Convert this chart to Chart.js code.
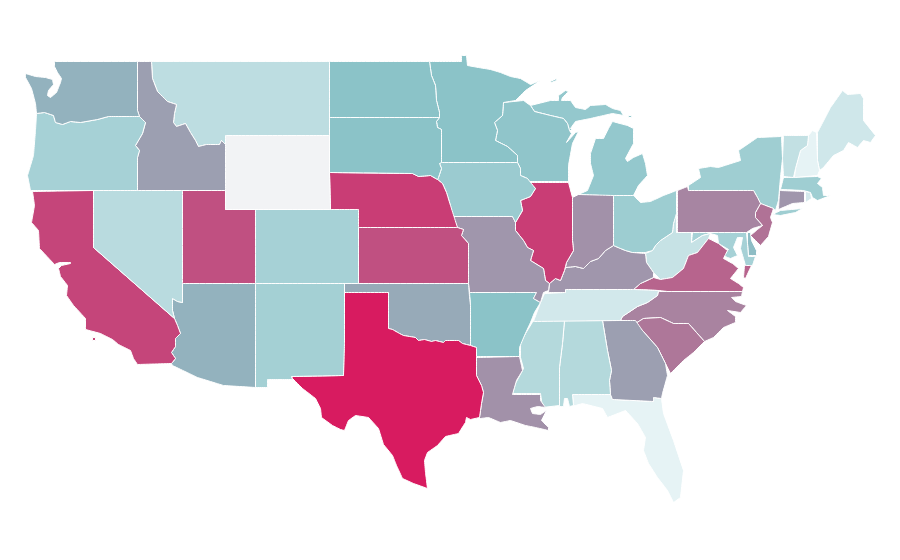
<!DOCTYPE html>
<html><head><meta charset="utf-8">
<style>html,body{margin:0;padding:0;background:#fff}canvas{display:block}</style>
<script src="https://cdn.jsdelivr.net/npm/chart.js@4"></script>
</head><body><canvas id="c" width="900" height="560"></canvas>
<script>
// Choropleth index per state; null = no data
const stateNames = ["WA","OR","ID","MT","WY","ND","SD","NE","CO","UT","NV","CA","AZ","NM","TX","OK","KS","MN","IA","MO","AR","LA","WI","IL","MI","IN","OH","KY","TN","MS","AL","GA","FL","SC","NC","VA","WV","PA","NJ","NY","VT","NH","ME","MA","CT","RI","MD","DE"];
const stateValues = [46,28,53,18,null,40,40,88,28,81,20,85,46,29,100,49,81,40,33,56,40,58,38,88,36,58,32,56,9,22,22,53,0,67,63,74,14,62,69,31,16,0,10,31,56,8,28,42];

// State outlines in map units
const WA = [[54,61],[137,61],[137,110],[139,116],[108,116],[97,119],[80,122],[70,121],[62,124],[55,122],[53,115],[44,112],[36,113],[35,103],[31,88],[25,77],[25,73],[35,76],[45,77],[52,79],[53,84],[48,90],[47,95],[50,97],[56,92],[60,82],[61,78],[57,72],[54,66]];
const OR = [[36,113],[44,112],[53,115],[55,122],[62,124],[70,121],[80,122],[97,119],[108,116],[139,116],[145,122],[142,133],[135,145],[139,150],[137,157],[137,190],[30,190],[27,175],[33,155],[35,130]];
const ID = [[137,61],[151,61],[152,78],[157,91],[167,101],[176,104],[174,113],[173,122],[176,126],[185,123],[190,132],[195,140],[198,146],[206,144],[219,144],[221,140],[225,144],[225,190],[137,190],[137,157],[139,150],[135,145],[142,133],[145,122],[139,116],[137,110]];
const MT = [[151,61],[329,61],[329,135],[225,135],[225,144],[221,140],[219,144],[206,144],[198,146],[195,140],[190,132],[185,123],[176,126],[173,122],[174,113],[176,104],[167,101],[157,91],[152,78]];
const WY = [[225,135],[329,135],[329,172],[330,209],[225,209]];
const ND = [[329,61],[429,61],[431,75],[435,85],[436,100],[439,112],[439,117],[329,117]];
const SD = [[329,117],[439,117],[436,121],[437,127],[441,129],[441,162],[439,163],[441,168],[438,177],[437,179],[430,175],[418,176],[412,173],[329,172]];
const NE = [[329,172],[412,173],[418,176],[430,175],[437,179],[442,183],[446,192],[450,205],[457,227],[358,227],[358,209],[330,209]];
const CO = [[255,209],[358,209],[358,283],[255,283]];
const UT = [[182,190],[225,190],[225,209],[255,209],[255,283],[182,283]];
const NV = [[93,190],[182,190],[182,302],[177,301],[172,298],[172,310],[174,318],[93,247]];
const CA = [[32,191],[93,190],[93,247],[174,318],[177,325],[180,333],[175,338],[175,346],[171,352],[175,358],[171,363],[137,364],[133,358],[130,350],[118,344],[112,339],[100,333],[85,329],[85,318],[73,305],[66,295],[67,285],[60,276],[58,268],[61,265],[70,263],[70,262],[59,262],[54,264],[39,248],[38,230],[31,222],[34,205]];
const CA_island = [[92,337],[95,337],[95,340],[92,340]];
const AZ = [[182,283],[255,283],[255,387],[223,385],[197,377],[172,365],[171,363],[175,358],[171,352],[175,346],[175,338],[180,333],[177,325],[174,318],[172,310],[172,298],[177,301],[182,302]];
const NM = [[255,283],[344,283],[344,343],[343,375],[291,376],[292,379],[267,379],[267,387],[255,387]];
const TX = [[344,292],[388,292],[388,328],[392,329],[399,333],[403,335],[415,337],[418,340],[424,339],[431,341],[435,340],[443,342],[445,340],[458,340],[462,343],[470,345],[476,347],[476,375],[481,385],[483,392],[481,403],[479,417],[470,419],[466,417],[465,422],[463,425],[458,433],[445,436],[437,445],[427,452],[424,460],[425,472],[427,488],[413,483],[402,478],[396,465],[392,455],[383,444],[378,428],[368,417],[355,415],[348,420],[344,430],[340,429],[332,425],[321,417],[320,408],[315,398],[302,388],[292,378],[291,376],[343,375]];
const OK = [[344,283],[468,283],[469,296],[470,305],[470,345],[462,343],[458,340],[445,340],[443,342],[435,340],[431,341],[424,339],[418,340],[415,337],[403,335],[399,333],[392,329],[388,328],[388,292],[344,292]];
const KS = [[358,227],[457,227],[463,229],[461,235],[468,243],[468,283],[358,283]];
const MN = [[429,61],[461,61],[461,55],[466,55],[467,65],[478,67],[490,69],[500,72],[510,76],[520,78],[530,84],[540,80],[525,90],[515,100],[503,102],[502,115],[494,122],[497,130],[495,140],[507,146],[517,155],[517,162],[441,162],[441,129],[437,127],[436,121],[439,117],[439,112],[436,100],[435,85],[431,75]];
const IA = [[441,162],[517,162],[520,168],[520,175],[527,178],[535,188],[530,196],[520,200],[522,210],[515,222],[512,216],[452,216],[450,205],[446,192],[442,183],[437,179],[438,177],[441,168],[439,163]];
const MO = [[452,216],[512,216],[515,222],[515,230],[523,240],[527,247],[533,250],[530,260],[543,268],[545,280],[549,283],[548,290],[543,292],[540,302],[533,298],[536,292],[469,292],[468,283],[468,243],[461,235],[463,229],[457,227]];
const AR = [[469,292],[536,292],[533,298],[540,302],[534,312],[530,322],[524,335],[519,347],[519,356],[476,356],[476,347],[470,345],[470,305]];
const LA = [[476,357],[519,356],[521,365],[522,370],[516,380],[512,394],[540,394],[540,400],[545,407],[537,406],[530,408],[532,413],[540,414],[546,410],[541,420],[548,427],[548,430],[535,427],[525,425],[510,420],[500,422],[488,417],[480,418],[479,417],[481,403],[483,392],[481,385],[476,375]];
const WI = [[503,102],[523,100],[530,105],[534,111],[550,115],[563,118],[567,123],[569,130],[571,133],[566,142],[575,132],[578,131],[572,143],[568,165],[568,181],[528,181],[527,178],[520,175],[520,168],[517,162],[517,155],[507,146],[495,140],[497,130],[494,122],[502,115]];
const IL = [[528,182],[568,182],[572,197],[572,240],[573,250],[566,262],[564,270],[560,280],[555,278],[549,283],[545,280],[543,268],[530,260],[533,250],[527,247],[523,240],[515,230],[515,222],[522,210],[520,200],[530,196],[535,188]];
const MI_lower = [[578,194],[613,195],[633,195],[638,185],[647,175],[645,163],[642,153],[633,157],[627,161],[625,158],[633,143],[633,128],[627,125],[612,121],[608,128],[603,138],[595,138],[590,153],[590,163],[593,175],[587,190]];
const MI_upper = [[530,105],[550,100],[558,100],[558,95],[565,90],[568,91],[562,97],[561,100],[570,100],[575,107],[585,109],[590,105],[605,104],[612,108],[620,110],[623,115],[612,113],[603,115],[590,118],[575,121],[570,128],[572,130],[569,130],[567,123],[563,118],[550,115],[534,111]];
const MI_isle = [[550,81],[556,78],[556,80],[551,82]];
const MI_small = [[628,115],[631,115],[631,117],[628,117]];
const IN = [[572,197],[578,194],[613,194],[613,245],[605,250],[598,258],[590,261],[583,268],[575,266],[565,267],[566,262],[573,250],[572,240]];
const OH = [[613,195],[633,195],[640,202],[650,201],[663,195],[676,190],[676,213],[673,223],[672,232],[660,240],[655,245],[652,250],[645,252],[632,252],[625,250],[620,248],[613,245]];
const KY = [[549,283],[555,278],[560,280],[564,270],[565,267],[575,266],[583,268],[590,261],[598,258],[605,250],[613,245],[620,248],[625,250],[632,252],[645,253],[646,262],[653,272],[653,277],[640,283],[633,289],[565,289],[565,292],[548,292]];
const TN = [[544,293],[565,292],[565,289],[633,289],[658,290],[657,295],[647,302],[637,306],[622,316],[620,320],[533,321],[540,302]];
const MS = [[533,320],[564,320],[562,343],[559,367],[559,405],[542,407],[540,393],[512,393],[515,383],[523,368],[520,357],[520,343],[525,333]];
const AL = [[564,320],[602,320],[607,350],[611,370],[609,380],[610,394],[572,394],[573,405],[569,406],[567,398],[564,398],[563,406],[559,406],[559,367],[562,343]];
const GA = [[602,320],[635,320],[642,330],[657,347],[665,363],[667,375],[662,393],[661,398],[653,397],[653,401],[612,399],[610,394],[609,380],[611,370],[607,350]];
const FL = [[572,394],[610,394],[612,399],[653,401],[653,397],[661,398],[663,413],[673,440],[683,470],[680,497],[673,502],[667,490],[657,477],[648,463],[643,450],[645,437],[637,423],[625,410],[607,417],[602,408],[582,403],[575,405],[573,405]];
const SC = [[635,323],[643,318],[660,317],[673,323],[688,323],[704,341],[693,352],[683,360],[670,373],[665,363],[657,347],[642,330]];
const NC = [[622,316],[637,306],[647,302],[657,295],[658,291],[742,291],[741,296],[731,297],[735,301],[746,305],[740,312],[727,310],[735,316],[735,322],[723,327],[713,337],[704,341],[688,323],[673,323],[660,317],[643,318],[635,323],[620,320]];
const VA = [[633,289],[640,283],[653,277],[660,279],[672,277],[683,268],[688,255],[697,252],[708,238],[718,243],[727,250],[723,258],[732,263],[738,268],[730,278],[738,283],[743,287],[742,291],[667,291],[658,290]];
const VA_shore = [[744,265],[751,265],[745,278],[743,277]];
const WV = [[675,214],[676,214],[676,232],[691,232],[691,242],[702,235],[710,233],[708,238],[697,252],[688,255],[683,268],[672,277],[660,279],[653,272],[646,262],[645,253],[652,250],[655,245],[660,240],[672,232],[673,223]];
const PA = [[677,190],[687,186],[688,190],[753,190],[757,197],[760,203],[755,212],[755,217],[762,225],[752,228],[746,232],[677,232]];
const NJ = [[760,203],[773,208],[770,217],[772,222],[768,236],[760,245],[750,235],[757,229],[762,225],[755,217],[755,212]];
const NY = [[688,190],[688,185],[700,177],[698,168],[710,166],[718,167],[740,160],[738,150],[757,137],[781,136],[782,158],[780,177],[778,200],[775,210],[773,208],[760,203],[757,197],[753,190]];
const NY_island = [[772,214],[780,210],[802,208],[795,212],[780,215]];
const VT = [[783,135],[808,135],[807,145],[800,150],[795,168],[793,177],[783,176],[782,158]];
const NH = [[808,135],[812,130],[816,132],[817,160],[819,170],[817,175],[794,177],[795,168],[800,150],[807,145]];
const ME = [[817,132],[830,107],[835,100],[842,90],[847,94],[860,93],[863,98],[863,120],[875,135],[870,142],[863,140],[857,147],[848,142],[843,150],[833,155],[823,167],[819,170],[817,160]];
const MA = [[783,177],[817,176],[821,178],[817,183],[822,187],[823,195],[830,195],[817,200],[812,197],[810,192],[803,190],[780,189]];
const CT = [[779,190],[804,191],[804,202],[792,203],[778,209]];
const RI = [[805,191],[810,192],[811,198],[805,202]];
const MD = [[692,232],[746,232],[747,243],[748,256],[755,256],[752,265],[745,265],[743,258],[740,248],[742,237],[737,237],[733,247],[737,255],[730,258],[727,257],[723,255],[728,249],[718,243],[717,235],[710,233],[702,235],[691,242]];
const DE = [[747,232],[750,232],[751,240],[756,250],[756,255],[748,255],[747,243]];

const outlines = {WA:[WA],OR:[OR],ID:[ID],MT:[MT],WY:[WY],ND:[ND],SD:[SD],NE:[NE],CO:[CO],UT:[UT],NV:[NV],CA:[CA,CA_island],AZ:[AZ],NM:[NM],TX:[TX],OK:[OK],KS:[KS],MN:[MN],IA:[IA],MO:[MO],AR:[AR],LA:[LA],WI:[WI],IL:[IL],MI:[MI_lower,MI_upper,MI_isle,MI_small],IN:[IN],OH:[OH],KY:[KY],TN:[TN],MS:[MS],AL:[AL],GA:[GA],FL:[FL],SC:[SC],NC:[NC],VA:[VA,VA_shore],WV:[WV],PA:[PA],NJ:[NJ],NY:[NY,NY_island],VT:[VT],NH:[NH],ME:[ME],MA:[MA],CT:[CT],RI:[RI],MD:[MD],DE:[DE]};

function colorFor(v){
  if(v===null) return '#f2f3f5';
  const lo=[230,243,245], mid=[139,195,200], hi=[216,27,96];
  const [a,b,t] = v<=40 ? [lo,mid,v/40] : [mid,hi,(v-40)/60];
  const c=a.map((p,i)=>Math.round(p+(b[i]-p)*t));
  return `rgb(${c[0]},${c[1]},${c[2]})`;
}
const datasets=[];
stateNames.forEach((name,i)=>{
  outlines[name].forEach(ring=>{
    datasets.push({label:name,data:ring.concat([ring[0]]),showLine:true,fill:'shape',
      backgroundColor:colorFor(stateValues[i]),borderColor:'#ffffff',borderWidth:1,
      pointRadius:0,pointHoverRadius:0,tension:0.0001,clip:false,borderJoinStyle:'miter'});
  });
});
new Chart(document.getElementById('c'),{
  type:'scatter',
  data:{datasets},
  options:{responsive:false,animation:false,layout:{padding:0},
    plugins:{legend:{display:false},title:{display:false},tooltip:{enabled:false}},
    scales:{x:{type:'linear',min:-0.5,max:899.5,display:false},y:{type:'linear',min:-0.5,max:559.5,reverse:true,display:false}}}
});
</script></body></html>
